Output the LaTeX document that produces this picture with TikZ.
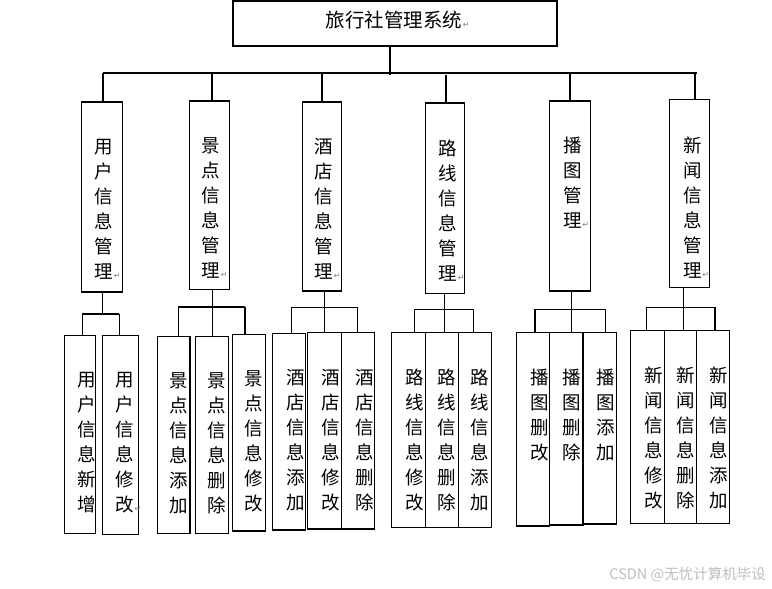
\documentclass[tikz,border=0pt]{standalone}
\usepackage{fontspec}
\usetikzlibrary{fit}
\newfontfamily\cjk{Noto Sans CJK SC}
\newfontfamily\symf{DejaVu Sans}
\newcommand\ret{\rlap{\kern0.5pt\symf\fontsize{8}{8}\selectfont\textcolor{retgray}{↵}}}
\definecolor{retgray}{RGB}{128,128,128}
\definecolor{wmgray}{RGB}{190,190,190}
\begin{document}
\begin{tikzpicture}[x=1pt,y=-1pt,
  box/.style={draw,line width=1.1pt,inner sep=0pt},
  vtext/.style={font=\cjk\fontsize{18.5}{25}\selectfont,align=center,inner sep=0pt,anchor=north},
  conn/.style={line width=1.1pt}]
\useasboundingbox (0,0) rectangle (772,589);
% top
\node[box,fit={(233,1)(557,46)}] (top) {};
\node[font=\cjk\fontsize{19.5}{20}\selectfont,inner sep=0pt] (toptxt) at (394,20) {旅行社管理系统\ret};
% level 2 boxes
\node[box,fit={(81.5,102)(122.3,292)}] (b1) {};
\node[box,fit={(189.5,101)(229.3,289.3)}] (b2) {};
\node[box,fit={(302.5,102)(341.7,291)}] (b3) {};
\node[box,fit={(425.3,103)(464.3,293.3)}] (b4) {};
\node[box,fit={(549.3,101)(590.3,291)}] (b5) {};
\node[box,fit={(669.3,99.3)(709.3,287.3)}] (b6) {};
\node[vtext] (t1) at (104,139) {用\\户\\信\\息\\管\\理\ret};
\node[vtext] (t2) at (211,137) {景\\点\\信\\息\\管\\理\ret};
\node[vtext] (t3) at (324,138.5) {酒\\店\\信\\息\\管\\理\ret};
\node[vtext] (t4) at (448,140) {路\\线\\信\\息\\管\\理\ret};
\node[vtext] (t5) at (572.5,137) {播\\图\\管\\理\ret};
\node[vtext] (t6) at (692.5,137) {新\\闻\\信\\息\\管\\理\ret};
% bus
\coordinate (busL) at (103,73);
\coordinate (busR) at (697,73);
\coordinate (c0) at (390,75);
\draw[conn] (top.south -| c0) -- (c0);
\draw[conn] (busL) -- (busR);
\coordinate (d1) at (103,73);
\coordinate (d2) at (212,73);
\coordinate (d3) at (322,73);
\coordinate (d4) at (446,75);
\coordinate (d5) at (570,73);
\coordinate (d6) at (695,73);
\foreach \i in {1,...,6} {\draw[conn] (d\i) -- (d\i |- b\i.north);}
% leaves
\node[box,fit={(64.3,335.3)(95.3,533.3)}] (l1a) {};
\node[box,fit={(102.3,335.3)(138.3,534.3)}] (l1b) {};
\node[box,fit={(157.3,336.7)(190,533.3)}] (l2a) {};
\node[box,fit={(195.3,336.7)(228.3,533.3)}] (l2b) {};
\node[box,fit={(232.7,334.3)(265.3,531)}] (l2c) {};
\node[box,fit={(272.3,333.3)(305.7,530)}] (l3a) {};
\node[box,fit={(307.7,332.3)(341.7,529)}] (l3b) {};
\node[box,fit={(341.7,332.3)(374.3,529)}] (l3c) {};
\node[box,fit={(391.7,332.3)(425.7,527.3)}] (l4a) {};
\node[box,fit={(425.7,332.3)(458.7,527.3)}] (l4b) {};
\node[box,fit={(458.7,332.3)(491.7,527.3)}] (l4c) {};
\node[box,fit={(516.7,332.3)(549.3,526)}] (l5a) {};
\node[box,fit={(549.3,332.3)(583,525)}] (l5b) {};
\node[box,fit={(583,332.3)(616.3,524)}] (l5c) {};
\node[box,fit={(630.7,330.3)(664.3,523.3)}] (l6a) {};
\node[box,fit={(664.3,330.3)(696.7,523.3)}] (l6b) {};
\node[box,fit={(696.7,330.3)(729.3,523.3)}] (l6c) {};
\node[vtext] (s1a) at (87,372) {用\\户\\信\\息\\新\\增};
\node[vtext] (s1b) at (124.7,372) {用\\户\\信\\息\\修\\改\ret};
\node[vtext] (s2a) at (178.7,372) {景\\点\\信\\息\\添\\加};
\node[vtext] (s2b) at (216.7,372) {景\\点\\信\\息\\删\\除};
\node[vtext] (s2c) at (253.8,370) {景\\点\\信\\息\\修\\改};
\node[vtext] (s3a) at (295.3,368.7) {酒\\店\\信\\息\\添\\加};
\node[vtext] (s3b) at (330.3,368.7) {酒\\店\\信\\息\\修\\改};
\node[vtext] (s3c) at (364.7,368.7) {酒\\店\\信\\息\\删\\除};
\node[vtext] (s4a) at (414.5,368.7) {路\\线\\信\\息\\修\\改};
\node[vtext] (s4b) at (447.2,368.7) {路\\线\\信\\息\\删\\除};
\node[vtext] (s4c) at (480,368.7) {路\\线\\信\\息\\添\\加};
\node[vtext] (s5a) at (539.5,368.7) {播\\图\\删\\改};
\node[vtext] (s5b) at (572,368.7) {播\\图\\删\\除};
\node[vtext] (s5c) at (606,368.7) {播\\图\\添\\加};
\node[vtext] (s6a) at (653.3,367) {新\\闻\\信\\息\\修\\改};
\node[vtext] (s6b) at (685.8,367) {新\\闻\\信\\息\\删\\除};
\node[vtext] (s6c) at (719.2,367) {新\\闻\\信\\息\\添\\加};
% group connectors
% g1
\coordinate (g1) at (102.3,314); \coordinate (g1l) at (82.3,314); \coordinate (g1r) at (119.3,314);
\draw[conn] (b1.south -| g1) -- (g1);
\draw[conn] (g1l) -- (g1r);
\draw[conn] (g1l) -- (g1l |- l1a.north);
\draw[conn] (g1r) -- (g1r |- l1b.north);
% g2
\coordinate (g2) at (212.3,307); \coordinate (g2l) at (178.3,307); \coordinate (g2r) at (245,307);
\draw[conn] (b2.south -| g2) -- (g2);
\draw[conn] (g2l) -- (g2r);
\draw[conn] (g2l) -- (g2l |- l2a.north);
\draw[conn] (g2) -- (g2 |- l2b.north);
\draw[conn] (g2r) -- (g2r |- l2c.north);
% g3
\coordinate (g3) at (324.3,307.3); \coordinate (g3l) at (291.7,307.3); \coordinate (g3r) at (357.3,307.3);
\draw[conn] (b3.south -| g3) -- (g3);
\draw[conn] (g3l) -- (g3r);
\draw[conn] (g3l) -- (g3l |- l3a.north);
\draw[conn] (g3) -- (g3 |- l3b.north);
\draw[conn] (g3r) -- (g3r |- l3c.north);
% g4
\coordinate (g4) at (444.3,309.3); \coordinate (g4l) at (414.3,309.3); \coordinate (g4r) at (473.3,309.3);
\draw[conn] (b4.south -| g4) -- (g4);
\draw[conn] (g4l) -- (g4r);
\draw[conn] (g4l) -- (g4l |- l4a.north);
\draw[conn] (g4) -- (g4 |- l4b.north);
\draw[conn] (g4r) -- (g4r |- l4c.north);
% g5
\coordinate (g5) at (571.3,309.3); \coordinate (g5l) at (535,309.3); \coordinate (g5r) at (605.3,309.3);
\draw[conn] (b5.south -| g5) -- (g5);
\draw[conn] (g5l) -- (g5r);
\draw[conn] (g5l) -- (g5l |- l5a.north);
\draw[conn] (g5) -- (g5 |- l5b.north);
\draw[conn] (g5r) -- (g5r |- l5c.north);
% g6
\coordinate (g6) at (683.3,307.3); \coordinate (g6l) at (646.5,307.3); \coordinate (g6r) at (715,307.3);
\draw[conn] (b6.south -| g6) -- (g6);
\draw[conn] (g6l) -- (g6r);
\draw[conn] (g6l) -- (g6l |- l6a.north);
\draw[conn] (g6) -- (g6 |- l6b.north);
\draw[conn] (g6r) -- (g6r |- l6c.north);
% watermark
\node[font=\cjk\fontsize{14.5}{15}\selectfont,text=wmgray,inner sep=0pt,anchor=east] (wm) at (766,575) {CSDN @无忧计算机毕设};
\end{tikzpicture}
\end{document}
